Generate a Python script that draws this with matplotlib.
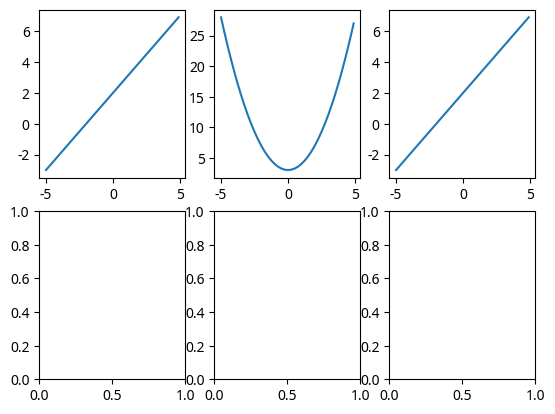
import matplotlib
matplotlib.use("Agg")
import matplotlib.pyplot as plt

plt.rcParams['font.family'] = ['Noto Sans', 'DejaVu Sans']
plt.rcParams['axes.unicode_minus'] = False

# line y = x + 2 (endpoints)
line_x = [-5.0, 4.9]
line_y = [-3.0, 6.9]

# parabola read at sample points
para_x = [-5.0, -4.75, -4.5, -4.25, -4.0, -3.75, -3.5, -3.25, -3.0, -2.75,
          -2.5, -2.25, -2.0, -1.75, -1.5, -1.25, -1.0, -0.75, -0.5, -0.25,
          0.0, 0.25, 0.5, 0.75, 1.0, 1.25, 1.5, 1.75, 2.0, 2.25, 2.5, 2.75,
          3.0, 3.25, 3.5, 3.75, 4.0, 4.25, 4.5, 4.75, 4.9]
para_y = [28.0, 25.56, 23.25, 21.06, 19.0, 17.06, 15.25, 13.56, 12.0, 10.56,
          9.25, 8.06, 7.0, 6.06, 5.25, 4.56, 4.0, 3.56, 3.25, 3.06,
          3.0, 3.06, 3.25, 3.56, 4.0, 4.56, 5.25, 6.06, 7.0, 8.06, 9.25, 10.56,
          12.0, 13.56, 15.25, 17.06, 19.0, 21.06, 23.25, 25.56, 27.01]

fig, axes = plt.subplots(2, 3, figsize=(6.4, 4.8), dpi=100)
axes[0, 0].plot(line_x, line_y)
axes[0, 1].plot(para_x, para_y)
axes[0, 2].plot(line_x, line_y)

fig.savefig("out.png", dpi=100, bbox_inches='tight')
